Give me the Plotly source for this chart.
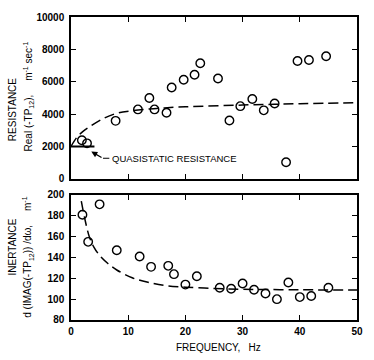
import plotly.graph_objects as go
from plotly.subplots import make_subplots

# ---- data ----
RES_FREQ = [1.9, 2.8, 7.8, 11.7, 13.7, 14.6, 16.7, 17.6, 19.7, 21.6, 22.6, 25.7,
            27.7, 29.6, 31.7, 33.7, 35.6, 37.6, 39.6, 41.6, 44.6]
RES_VAL = [2380, 2190, 3580, 4290, 4990, 4290, 4080, 5640, 6120, 6430, 7140, 6200,
           3600, 4490, 4930, 4230, 4650, 1020, 7280, 7340, 7570]
RES_FIT_FREQ = [0, 1, 2, 3.2, 5.5, 8, 10.5, 15, 20, 30, 40, 50]
RES_FIT_VAL = [2000, 2550, 2900, 3200, 3700, 4050, 4200, 4350, 4450, 4560, 4640, 4700]
QUASI_FREQ = [0, 4.1]
QUASI_VAL = [2000, 2000]

INR_FREQ = [2, 3, 5, 8, 12, 14, 17, 18, 20, 22, 26, 28, 30, 32, 34, 36, 38, 40, 42, 45]
INR_VAL = [181, 155, 191, 147, 141, 131, 132, 124, 114, 122, 111, 110, 115, 109,
           105.5, 100, 116, 102, 103, 111]
INR_FIT_FREQ = [1.8, 2.5, 3.2, 4, 5, 6.5, 8, 10.7, 13.6, 16.5, 20, 25, 30, 40, 50]
INR_FIT_VAL = [194, 175, 160, 150, 142, 134, 128, 120.5, 116, 113, 111.5, 110.3,
               109.5, 109, 108.7]

X_TICKS = [0, 10, 20, 30, 40, 50]
RES_TICKS = [0, 2000, 4000, 6000, 8000, 10000]
INR_TICKS = [80, 100, 120, 140, 160, 180, 200]

FONT = "Arial, Liberation Sans, sans-serif"
NB = "\u00a0"

fig = make_subplots(rows=2, cols=1, vertical_spacing=0.0)

marker = dict(symbol="circle-open", size=8.5, color="black", line=dict(width=1.4, color="black"))
dash = dict(color="black", width=1.5, dash="10px,5px")

fig.add_trace(go.Scatter(x=RES_FIT_FREQ, y=RES_FIT_VAL, mode="lines", line=dict(shape="spline", **dash),
                         showlegend=False, hoverinfo="skip"), row=1, col=1)
fig.add_trace(go.Scatter(x=QUASI_FREQ, y=QUASI_VAL, mode="lines", line=dict(color="black", width=2),
                         showlegend=False, hoverinfo="skip"), row=1, col=1)
fig.add_trace(go.Scatter(x=RES_FREQ, y=RES_VAL, mode="markers", marker=marker, showlegend=False),
              row=1, col=1)
fig.add_trace(go.Scatter(x=INR_FIT_FREQ, y=INR_FIT_VAL, mode="lines", line=dict(shape="spline", **dash),
                         showlegend=False, hoverinfo="skip"), row=2, col=1)
fig.add_trace(go.Scatter(x=INR_FREQ, y=INR_VAL, mode="markers", marker=marker, showlegend=False),
              row=2, col=1)

axis_common = dict(showline=True, linecolor="black", linewidth=1.5, mirror="ticks",
                   ticks="inside", ticklen=5, tickwidth=1.2, tickcolor="black",
                   showgrid=False, zeroline=False,
                   tickfont=dict(family=FONT, size=10, color="black", weight="bold"))

top_dom = [(320 - 176) / 309, 1.0]
bot_dom = [0.0, (320 - 192.5) / 309]

fig.update_xaxes(range=[0, 50], tickvals=X_TICKS, showticklabels=False, domain=[0, 1], **axis_common,
                 row=1, col=1)
fig.update_xaxes(range=[0, 50], tickvals=X_TICKS, domain=[0, 1], ticklabelstandoff=1, **axis_common,
                 row=2, col=1)
fig.update_yaxes(range=[0, 10000], tickvals=RES_TICKS, tickformat="d", domain=top_dom,
                 ticklabelstandoff=3, **axis_common, row=1, col=1)
fig.update_yaxes(range=[80, 200], tickvals=INR_TICKS, domain=bot_dom, ticklabelstandoff=3,
                 **axis_common, row=2, col=1)

title_font = dict(family=FONT, size=10, color="black")
annotations = [
    dict(text="RESISTANCE", xref="paper", yref="paper", x=0, y=1 - (106 - 11) / 309,
         xshift=-59, textangle=-90, showarrow=False, font=title_font,
         xanchor="center", yanchor="middle"),
    dict(text="Real (-TP<sub>12</sub>)," + NB * 5 + "m<sup>-1</sup> sec<sup>-1</sup>",
         xref="paper", yref="paper", x=0, y=1 - (92 - 11) / 309,
         xshift=-43, textangle=-90, showarrow=False, font=title_font,
         xanchor="center", yanchor="middle"),
    dict(text="INERTANCE", xref="paper", yref="paper", x=0, y=1 - (246 - 11) / 309,
         xshift=-59, textangle=-90, showarrow=False, font=title_font,
         xanchor="center", yanchor="middle"),
    dict(text="d (IMAG(-TP<sub>12</sub>)) /d\u03c9," + NB * 5 + "m<sup>-1</sup>",
         xref="paper", yref="paper", x=0, y=1 - (256.5 - 11) / 309,
         xshift=-43, textangle=-90, showarrow=False, font=title_font,
         xanchor="center", yanchor="middle"),
    dict(text="FREQUENCY," + NB * 3 + "Hz", xref="paper", yref="paper",
         x=(220 - 71) / 289, y=0, yshift=-27, showarrow=False, font=title_font,
         xanchor="center", yanchor="middle"),
    dict(text="QUASISTATIC RESISTANCE", xref="x", yref="y", x=6.75, y=1270,
         xanchor="left", yanchor="middle", showarrow=False,
         font=dict(family=FONT, size=9.5, color="black")),
    dict(text="", xref="x", yref="y", x=3.55, y=1680, axref="x", ayref="y",
         ax=5.6, ay=1270, showarrow=True, arrowhead=2, arrowsize=1, arrowwidth=1.2,
         arrowcolor="black"),
]
fig.update_layout(annotations=annotations)
fig.add_shape(type="line", xref="x", yref="y", x0=5.6, y0=1270, x1=6.7, y1=1270,
              line=dict(color="black", width=1.2))

fig.update_layout(width=374, height=360, margin=dict(l=71, r=14, t=11, b=40),
                  paper_bgcolor="white", plot_bgcolor="white",
                  font=dict(family=FONT, color="black"))

fig.write_html("out.html", config={"displayModeBar": False},
               post_script="document.body.style.margin='0';")
